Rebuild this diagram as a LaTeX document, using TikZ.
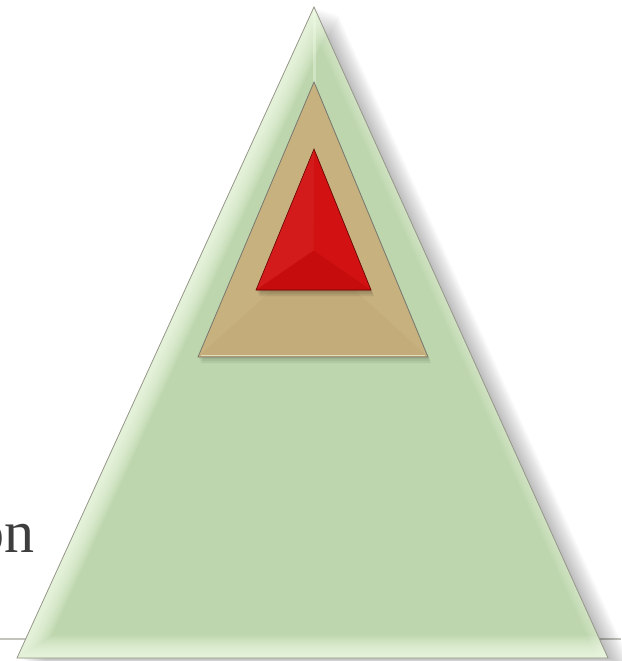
\documentclass[tikz,border=0pt]{standalone}
\usepackage{fontspec}
\setmainfont{Liberation Serif}
\usetikzlibrary{calc}

\definecolor{pyrgreen}{RGB}{189,214,174}
\definecolor{pyrrim}{RGB}{246,255,236}
\definecolor{pyrtan}{RGB}{199,177,127}
\definecolor{pyrtandark}{RGB}{190,166,116}
\definecolor{pyrred}{RGB}{210,18,18}
\definecolor{pyrreddark}{RGB}{198,12,12}
\definecolor{pyredge}{RGB}{150,150,138}
\definecolor{rulegray}{RGB}{196,196,190}
\definecolor{txtgray}{RGB}{62,62,62}

\begin{document}
\begin{tikzpicture}[
    x=1pt, y=-1pt,
    edge/.style={draw=pyredge, line width=0.8pt, line join=miter},
    rim/.style={draw=pyrrim, line join=round},
    shade/.style={fill=black, opacity=0.025},
    label/.style={font=\fontsize{60}{66}\selectfont, text=txtgray, inner sep=0pt}
]
\useasboundingbox (0,0) rectangle (621,661);

% --- CORNERS ---
\coordinate (gTop) at (314,7);
\coordinate (gLeft) at (17,658);
\coordinate (gRight) at (608,658);
\coordinate (tTop) at (314,82);
\coordinate (tLeft) at (198,357);
\coordinate (tRight) at (428,357);
\coordinate (rTop) at (314,149);
\coordinate (rLeft) at (256,290);
\coordinate (rRight) at (371,290);

% --- BASE LINE ---
\draw [rulegray, line width=1.8pt] (0,639) -- (621,639);

% --- TEXT ---
\node (word) [label, anchor=base east] at (35,552) {on};

% --- OUTER (GREEN) ---
\foreach \s in {2,4,...,24}
    \fill [shade] ($(gTop)+(\s,\s/3)$) -- ($(gLeft)+(\s,\s/3)$) -- ($(gRight)+(\s,\s/3)$) -- cycle;
\fill [pyrgreen] (gTop) -- (gLeft) -- (gRight) -- cycle;
\begin{scope}
    \clip (gTop) -- (gLeft) -- (gRight) -- cycle;
    \foreach \w in {4,8,...,44}
        \draw [rim, line width=\w pt, opacity=0.12] (gTop) -- (gLeft) -- (gRight);
    \foreach \w in {4,8,...,20}
        \draw [rim, line width=\w pt, opacity=0.08] (gRight) -- (gTop);
    \draw [pyrrim, line width=3pt, opacity=0.35] (gTop) -- ($(gTop)+(0,110)$);
\end{scope}
\draw [edge] (gTop) -- (gLeft) -- (gRight) -- cycle;

% --- MIDDLE (TAN) ---
\foreach \s in {2,4,6}
    \fill [shade, opacity=0.06] ($(tTop)+(\s/2,\s)$) -- ($(tLeft)+(\s/2,\s)$) -- ($(tRight)+(\s/2,\s)$) -- cycle;
\fill [pyrtan] (tTop) -- (tLeft) -- (tRight) -- cycle;
\fill [pyrtandark, opacity=0.4] (tLeft) -- (tRight) -- ($(tTop)!0.62!($(tLeft)!0.5!(tRight)$)$) -- cycle;
\draw [edge, draw=pyredge!80!black] (tTop) -- (tLeft) -- (tRight) -- cycle;
\draw [pyrrim, line width=1pt, opacity=0.6] ($(tLeft)+(3,-1.5)$) -- ($(tRight)+(-3,-1.5)$);

% --- INNER (RED) ---
\foreach \s in {2,4,6}
    \fill [shade, opacity=0.08] ($(rTop)+(\s/2,\s)$) -- ($(rLeft)+(\s/2,\s)$) -- ($(rRight)+(\s/2,\s)$) -- cycle;
\fill [pyrred] (rTop) -- (rLeft) -- (rRight) -- cycle;
\fill [pyrreddark] (rLeft) -- (rRight) -- ($(rTop)!0.72!($(rLeft)!0.5!(rRight)$)$) -- cycle;
\fill [white, opacity=0.04] (rTop) -- (rLeft) -- ($(rTop)!0.72!($(rLeft)!0.5!(rRight)$)$) -- cycle;
\draw [edge, draw=red!40!black, line width=0.6pt] (rTop) -- (rLeft) -- (rRight) -- cycle;

\end{tikzpicture}
\end{document}
